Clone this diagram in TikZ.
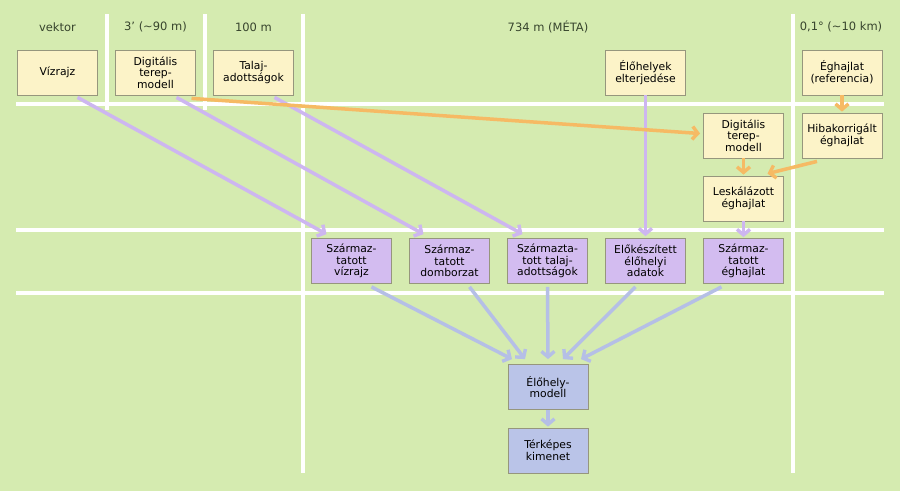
\documentclass[tikz,border=0pt]{standalone}
\usepackage{fontspec}
\setmainfont{DejaVu Sans}
\usetikzlibrary{arrows.meta}
\definecolor{bg}{RGB}{213,235,176}
\definecolor{ybox}{RGB}{252,243,200}
\definecolor{pbox}{RGB}{211,188,240}
\definecolor{bbox}{RGB}{186,196,232}
\definecolor{bord}{RGB}{150,150,125}
\definecolor{parr}{RGB}{205,182,240}
\definecolor{oarr}{RGB}{246,186,100}
\definecolor{barr}{RGB}{181,191,230}
\definecolor{hdr}{RGB}{55,68,45}
\tikzset{
  box/.style={draw=bord,line width=0.8pt,minimum width=80pt,minimum height=45pt,
    text width=78pt,align=center,inner sep=0pt,
    font=\fontsize{10.8}{11.7}\selectfont,text=black},
  ybx/.style={box,fill=ybox},
  pbx/.style={box,fill=pbox},
  bbx/.style={box,fill=bbox},
  hdrtxt/.style={font=\fontsize{11.5}{12}\selectfont,text=hdr,inner sep=0pt},
  wline/.style={white,line width=4pt},
  conn/.style={line width=3.5pt,-{Straight Barb[length=5.5pt,width=13pt,line width=3.4pt]}},
  pa/.style={conn,draw=parr},
  oa/.style={conn,draw=oarr},
  ba/.style={conn,draw=barr},
}
\begin{document}
\begin{tikzpicture}[x=1pt,y=-1pt]
\fill[bg] (0,0) rectangle (900,491);
\useasboundingbox (0,0) rectangle (900,491);
% grid lines
\draw[wline] (107,14) -- (107,110);
\draw[wline] (205,14) -- (205,110);
\draw[wline] (303,14) -- (303,473);
\draw[wline] (793,14) -- (793,473);
\draw[wline] (16,104) -- (884,104);
\draw[wline] (16,230) -- (884,230);
\draw[wline] (16,293) -- (884,293);
% headers
\node[hdrtxt] (h1) at (57.5,27) {vektor};
\node[hdrtxt] (h2) at (155.5,27) {3’ (\textasciitilde90 m)};
\node[hdrtxt] (h3) at (253.5,27) {100 m};
\node[hdrtxt] (h4) at (548,27) {734 m (MÉTA)};
\node[hdrtxt] (h5) at (841,27) {0,1° (\textasciitilde10 km)};
% row 1
\node[ybx] (viz) at (57.5,72.5) {Vízrajz};
\node[ybx] (dtm) at (155.5,72.5) {Digitális\\terep-\\modell};
\node[ybx] (tal) at (253.5,72.5) {Talaj-\\adottságok};
\node[ybx] (elo) at (645.5,72.5) {Élőhelyek\\elterjedése};
\node[ybx] (egh) at (842,72.5) {Éghajlat\\(referencia)};
% row 2,3
\node[ybx] (dtm2) at (743.5,135.5) {Digitális\\terep-\\modell};
\node[ybx] (hib) at (842,135.5) {Hibakorrigált\\éghajlat};
\node[ybx] (lesk) at (743.5,198.5) {Leskálázott\\éghajlat};
% row 4
\node[pbx] (szviz) at (351.5,261) {Származ-\\tatott\\vízrajz};
\node[pbx] (szdom) at (449.5,261) {Származ-\\tatott\\domborzat};
\node[pbx] (sztal) at (547.5,261) {Származta-\\tott talaj-\\adottságok};
\node[pbx] (elok) at (645.5,261) {Előkészített\\élőhelyi\\adatok};
\node[pbx] (szegh) at (743.5,261) {Származ-\\tatott\\éghajlat};
% bottom
\node[bbx] (model) at (548,387) {Élőhely-\\modell};
\node[bbx] (map) at (548,450.5) {Térképes\\kimenet};
% purple arrows
\draw[pa] ([xshift=20pt,yshift=-2pt]viz.south) -- ([xshift=-25pt,yshift=4pt]szviz.north);
\draw[pa] ([xshift=21pt,yshift=-2pt]dtm.south) -- ([xshift=-26pt,yshift=4pt]szdom.north);
\draw[pa] ([xshift=21pt,yshift=-2pt]tal.south) -- ([xshift=-25pt,yshift=4pt]sztal.north);
\draw[pa] (elo.south) -- ([yshift=2pt]elok.north);
\draw[pa] (lesk.south) -- ([yshift=1pt]szegh.north);
% orange arrows
\draw[oa] ([xshift=36pt,yshift=-3pt]dtm.south) -- ([xshift=-3pt,yshift=2pt]dtm2.west);
\draw[oa] (egh.south) -- ([yshift=1pt]hib.north);
\draw[oa] (dtm2.south) -- ([yshift=1pt]lesk.north);
\draw[oa] ([xshift=-25pt,yshift=-3pt]hib.south) -- ([xshift=24pt,yshift=2pt]lesk.north);
% blue arrows
\draw[ba] ([xshift=20pt,yshift=-3pt]szviz.south) -- ([xshift=-36pt,yshift=5pt]model.north);
\draw[ba] ([xshift=20pt,yshift=-3pt]szdom.south) -- ([xshift=-23pt,yshift=5pt]model.north);
\draw[ba] ([yshift=-3pt]sztal.south) -- ([yshift=5pt]model.north);
\draw[ba] ([xshift=-10pt,yshift=-3pt]elok.south) -- ([xshift=15pt,yshift=5pt]model.north);
\draw[ba] ([xshift=-22pt,yshift=-3pt]szegh.south) -- ([xshift=33pt,yshift=5pt]model.north);
\draw[ba] (model.south) -- ([yshift=1pt]map.north);
\end{tikzpicture}
\end{document}
